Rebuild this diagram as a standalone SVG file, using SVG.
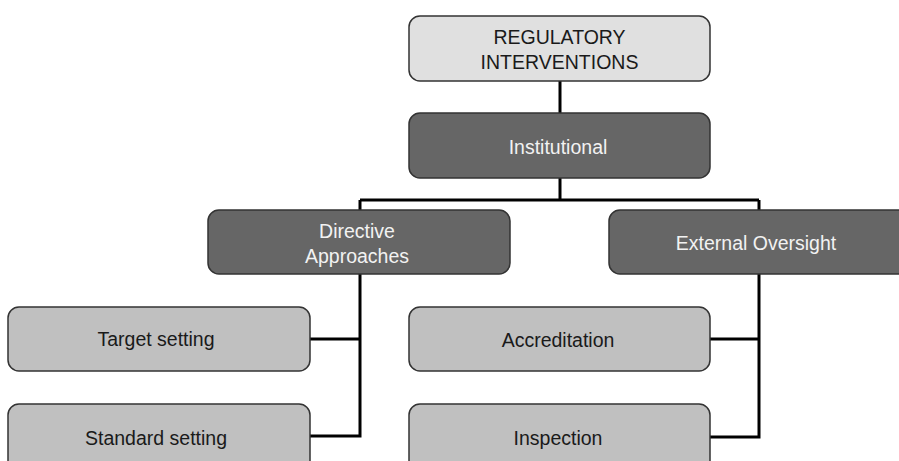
<svg xmlns="http://www.w3.org/2000/svg" width="899" height="461" viewBox="0 0 899 461">
<style>
.box{stroke:#333;stroke-width:1.5}
.top{fill:#e0e0e0}
.dark{fill:#666666}
.light{fill:#c0c0c0}
text{font-family:"Liberation Sans",Arial,sans-serif;font-size:19.5px;text-anchor:middle}
.dt{fill:#f2f2f2}
.lt{fill:#1a1a1a}
.conn{fill:none;stroke:#000;stroke-width:3}
</style>
<rect width="899" height="461" fill="#fff"/>
<g id="connectors">
<path class="conn" d="M560,81V113"/>
<path class="conn" d="M560,178V200"/>
<path class="conn" d="M360,200H759"/>
<path class="conn" d="M360,200V210"/>
<path class="conn" d="M759,200V210"/>
<path class="conn" d="M360,274V436H310"/>
<path class="conn" d="M360,339H310"/>
<path class="conn" d="M759,274V437H710"/>
<path class="conn" d="M759,339H710"/>
</g>
<g id="regulatory">
<rect class="box top" x="409" y="16" width="301" height="65" rx="11"/>
<text class="lt" x="559.5" y="44">REGULATORY</text>
<text class="lt" x="559.5" y="69">INTERVENTIONS</text>
</g>
<g id="institutional">
<rect class="box dark" x="409" y="113" width="301" height="65" rx="11"/>
<text class="dt" x="558" y="154">Institutional</text>
</g>
<g id="directive">
<rect class="box dark" x="208" y="210" width="302" height="64" rx="11"/>
<text class="dt" x="357" y="238">Directive</text>
<text class="dt" x="357" y="263">Approaches</text>
</g>
<g id="external">
<rect class="box dark" x="609" y="210" width="301" height="64" rx="11"/>
<text class="dt" x="756" y="250">External Oversight</text>
</g>
<g id="target">
<rect class="box light" x="8" y="307" width="302" height="64" rx="11"/>
<text class="lt" x="156" y="346">Target setting</text>
</g>
<g id="standard">
<rect class="box light" x="8" y="404" width="302" height="70" rx="11"/>
<text class="lt" x="156" y="445">Standard setting</text>
</g>
<g id="accreditation">
<rect class="box light" x="409" y="307" width="301" height="64" rx="11"/>
<text class="lt" x="558" y="347">Accreditation</text>
</g>
<g id="inspection">
<rect class="box light" x="409" y="404" width="301" height="70" rx="11"/>
<text class="lt" x="558" y="445">Inspection</text>
</g>
</svg>
